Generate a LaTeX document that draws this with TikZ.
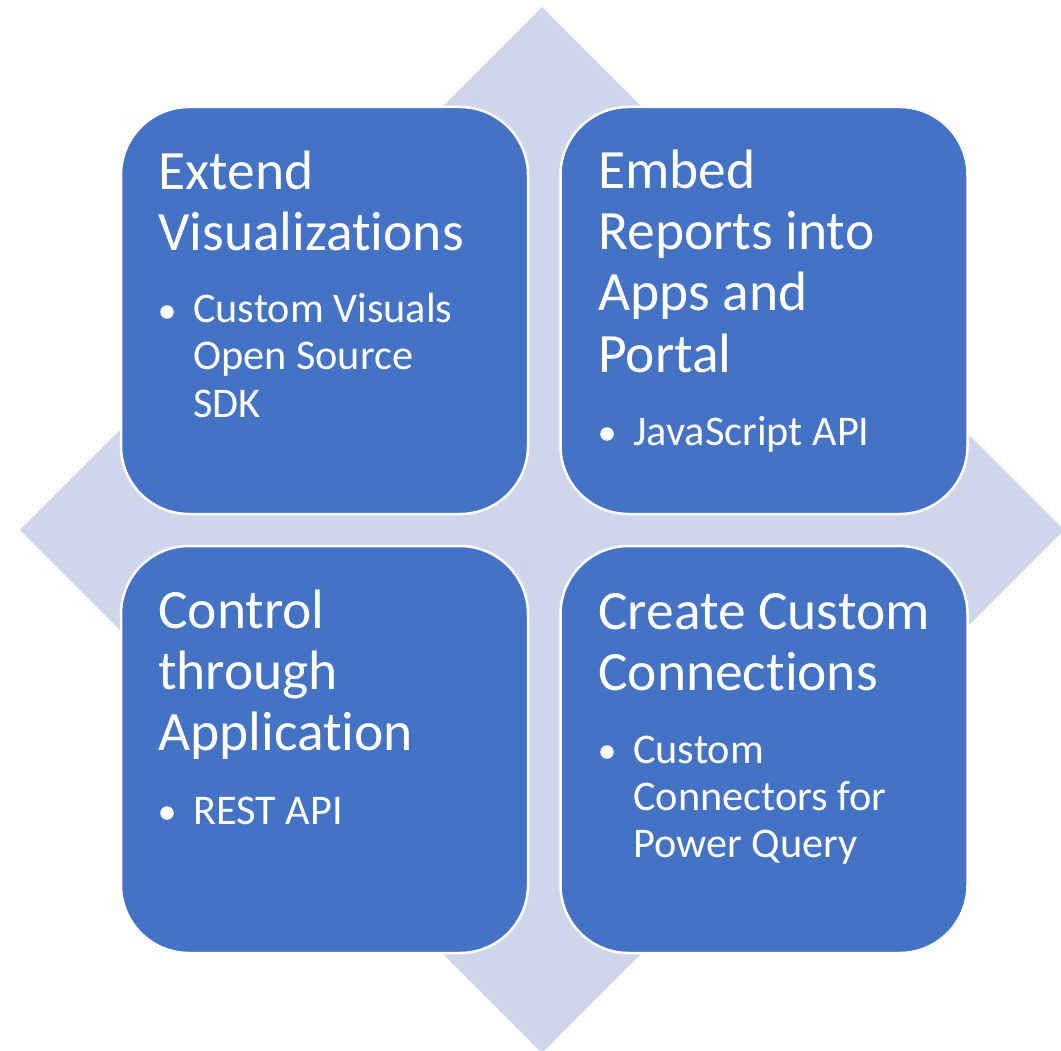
\documentclass[tikz,border=0pt]{standalone}
\usepackage{fontspec}
\setmainfont{Carlito}[Ligatures={CommonOff}]
\definecolor{diam}{HTML}{CFD5EA}
\definecolor{boxblue}{HTML}{4472C4}
\begin{document}
\begin{tikzpicture}[x=1pt,y=-1pt,
  card/.style={fill=boxblue, draw=white, line width=2.5pt, rounded corners=68pt,
    minimum width=407pt, minimum height=407pt, inner sep=0pt},
  ttl/.style={anchor=base west, inner sep=0pt, text=white, font=\fontsize{55.5}{61}\selectfont},
  itm/.style={anchor=base west, inner sep=0pt, text=white, font=\fontsize{42.3}{46.5}\selectfont},
  bdot/.style={circle, fill=white, inner sep=0pt, minimum size=13.5pt}]
\useasboundingbox (0,0) rectangle (1061,1051);
\fill[diam] (542,7) -- (1064,530) -- (542,1053) -- (20,530) -- cycle;
% cards
\node[card] (tl) at (324.5,310.5) {};
\node[card] (tr) at (764,310.5) {};
\node[card] (bl) at (324.5,749.5) {};
\node[card] (br) at (764,749.5) {};
% top-left
\node[ttl] (tl1) at (158,190) {Extend};
\node[ttl] (tl2) at (158,251) {Visualizations};
\node[bdot] (tld) at (167,312) {};
\node[itm] (tlb1) at (193,323) {Custom Visuals};
\node[itm] (tlb2) at (193,370) {Open Source};
\node[itm] (tlb3) at (193,417) {SDK};
% top-right
\node[ttl] (tr1) at (598,189) {Embed};
\node[ttl] (tr2) at (598,250) {Reports into};
\node[ttl] (tr3) at (598,311) {Apps and};
\node[ttl] (tr4) at (598,372) {Portal};
\node[bdot] (trd) at (607,434) {};
\node[itm] (trb1) at (633,445) {JavaScript API};
% bottom-left
\node[ttl] (bl1) at (158,628) {Control};
\node[ttl] (bl2) at (158,689) {through};
\node[ttl] (bl3) at (158,750) {Application};
\node[bdot] (bld) at (167,813) {};
\node[itm] (blb1) at (193,824) {REST API};
% bottom-right
\node[ttl] (br1) at (598,629) {Create Custom};
\node[ttl] (br2) at (598,690) {Connections};
\node[bdot] (brd) at (607,752) {};
\node[itm] (brb1) at (633,763) {Custom};
\node[itm] (brb2) at (633,810) {Connectors for};
\node[itm] (brb3) at (633,857) {Power Query};
\end{tikzpicture}
\end{document}
